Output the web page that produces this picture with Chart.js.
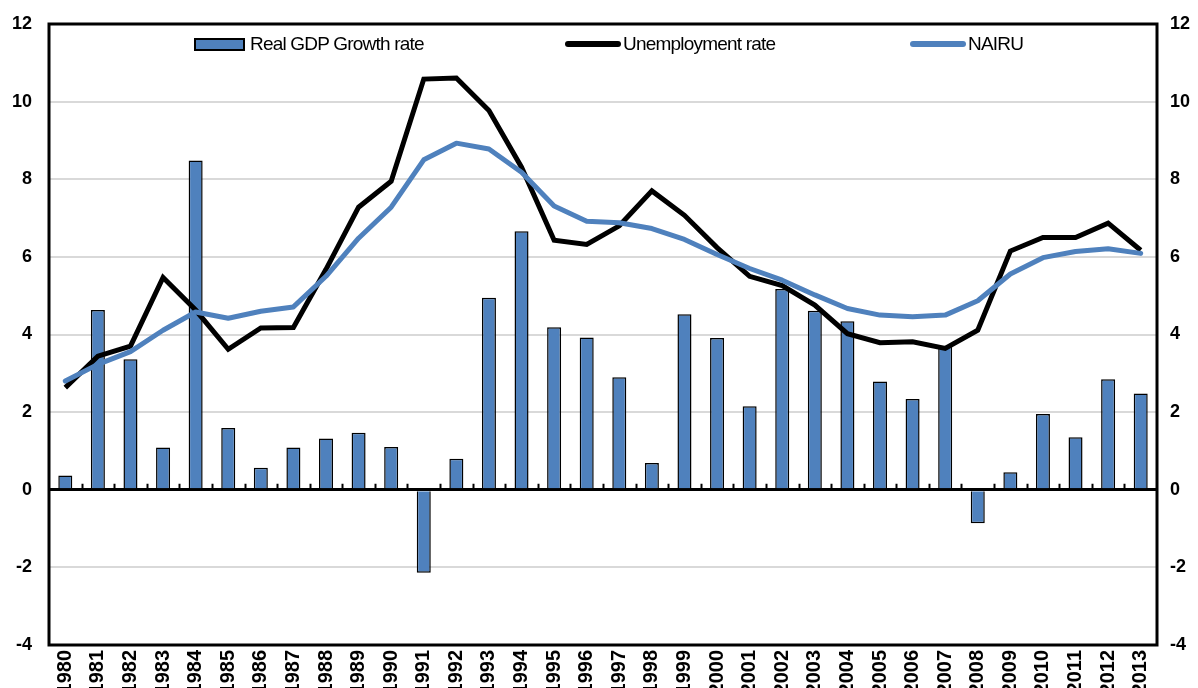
<!DOCTYPE html>
<html>
<head>
<meta charset="utf-8">
<script src="https://cdn.jsdelivr.net/npm/chart.js@4.4.0/dist/chart.umd.min.js"></script>
<style>
  html, body { margin: 0; padding: 0; background: #fff; }
  #wrap { position: relative; width: 1198px; height: 688px; overflow: hidden; }
  canvas { position: absolute; left: 0; top: 0; }
  .lg-text { position: absolute; top: 34px; font-family: "Liberation Sans", Arial, sans-serif; font-size: 19px; line-height: 20px; letter-spacing: -0.8px; color: #000; white-space: nowrap; }
  .lg-box { position: absolute; left: 194px; top: 38px; width: 51px; height: 13px; background: #4F81BD; border: 2px solid #000; box-sizing: border-box; }
  .lg-line { position: absolute; top: 41px; height: 6px; border-radius: 3px; }
</style>
</head>
<body>
<div id="wrap">
  <canvas id="c" width="1198" height="688"></canvas>
  <div class="lg-box"></div>
  <div class="lg-text" style="left:250px">Real GDP Growth rate</div>
  <div class="lg-line" style="left:565px;width:56px;background:#000"></div>
  <div class="lg-text" style="left:623px">Unemployment rate</div>
  <div class="lg-line" style="left:910px;width:56px;background:#4F81BD"></div>
  <div class="lg-text" style="left:968px">NAIRU</div>
</div>
<script>
const years = ["1980","1981","1982","1983","1984","1985","1986","1987","1988","1989",
  "1990","1991","1992","1993","1994","1995","1996","1997","1998","1999",
  "2000","2001","2002","2003","2004","2005","2006","2007","2008","2009",
  "2010","2011","2012","2013"];

const gdpGrowth = [0.37, 4.63, 3.36, 1.09, 8.48, 1.59, 0.57, 1.09, 1.32, 1.47,
  1.10, -2.14, 0.80, 4.95, 6.66, 4.19, 3.92, 2.90, 0.69, 4.52,
  3.91, 2.15, 5.17, 4.61, 4.34, 2.79, 2.34, 3.70, -0.86, 0.45,
  1.95, 1.35, 2.85, 2.48];

const unemployment = [2.63, 3.44, 3.70, 5.47, 4.63, 3.62, 4.17, 4.18, 5.68, 7.28,
  7.95, 10.58, 10.61, 9.77, 8.31, 6.43, 6.32, 6.80, 7.70, 7.07,
  6.24, 5.50, 5.26, 4.76, 4.02, 3.79, 3.81, 3.64, 4.11, 6.15,
  6.50, 6.50, 6.87, 6.17];

const nairu = [2.80, 3.23, 3.56, 4.11, 4.58, 4.42, 4.60, 4.71, 5.50, 6.48,
  7.28, 8.50, 8.93, 8.78, 8.18, 7.31, 6.92, 6.88, 6.73, 6.45,
  6.06, 5.70, 5.40, 5.02, 4.67, 4.50, 4.46, 4.50, 4.87, 5.56,
  5.98, 6.14, 6.21, 6.09];

const yMin = -4, yMax = 12, yStep = 2;

const BLUE = '#4F81BD';
const FONT = '"Liberation Sans", Arial, sans-serif';
const NARROW = '"Liberation Sans Narrow", "Arial Narrow", "Liberation Sans", Arial, sans-serif';

function zeroPad(s) { s.paddingTop = 0; s.paddingBottom = 0; s.paddingLeft = 0; s.paddingRight = 0; }

const framePlugin = {
  id: 'frame',
  afterDraw(chart) {
    const { ctx, chartArea: a, scales } = chart;
    const x = scales.x, y = scales.y;
    const y0 = y.getPixelForValue(0);
    ctx.save();
    ctx.strokeStyle = '#000';
    ctx.lineWidth = 2;
    for (let i = 1; i < years.length; i++) {
      const px = Math.round((x.getPixelForTick(i - 1) + x.getPixelForTick(i)) / 2) + 0.5;
      ctx.beginPath();
      ctx.moveTo(px, y0);
      ctx.lineTo(px, y0 - 6);
      ctx.stroke();
    }
    ctx.lineWidth = 3;
    ctx.strokeRect(a.left, a.top, a.right - a.left, a.bottom - a.top);
    ctx.restore();
  }
};

new Chart(document.getElementById('c'), {
  data: {
    labels: years,
    datasets: [
      {
        type: 'line', label: 'NAIRU', data: nairu,
        borderColor: BLUE, borderWidth: 5, pointRadius: 0, tension: 0,
        yAxisID: 'y', order: 1, borderJoinStyle: 'round', borderCapStyle: 'round'
      },
      {
        type: 'line', label: 'Unemployment rate', data: unemployment,
        borderColor: '#000', borderWidth: 5, pointRadius: 0, tension: 0,
        yAxisID: 'y', order: 2, borderJoinStyle: 'miter', borderCapStyle: 'butt'
      },
      {
        type: 'bar', label: 'Real GDP Growth rate', data: gdpGrowth,
        backgroundColor: BLUE, borderColor: '#000', borderWidth: 1.5,
        categoryPercentage: 1.0, barPercentage: 0.43,
        yAxisID: 'y', order: 3
      }
    ]
  },
  options: {
    responsive: false,
    animation: false,
    devicePixelRatio: 1,
    layout: { padding: { top: 24, left: 0, right: 0, bottom: 0 } },
    plugins: { legend: { display: false }, tooltip: { enabled: false } },
    scales: {
      x: {
        type: 'category',
        offset: true,
        grid: { display: false, drawTicks: false },
        border: { display: false },
        ticks: {
          autoSkip: false, maxRotation: 90, minRotation: 90, padding: 5,
          color: '#000', font: { family: NARROW, size: 20, weight: 'bold' }
        },
        afterFit(s) { s.height = 43; zeroPad(s); }
      },
      y: {
        position: 'left', min: yMin, max: yMax,
        grid: {
          drawTicks: false,
          color: c => c.tick && c.tick.value === 0 ? '#000' : '#D9D9D9',
          lineWidth: c => c.tick && c.tick.value === 0 ? 3 : 2
        },
        border: { display: false },
        ticks: {
          stepSize: yStep, padding: 17, color: '#000',
          font: { family: FONT, size: 18, weight: 'bold' }
        },
        afterFit(s) { s.width = 49; zeroPad(s); }
      },
      y2: {
        position: 'right', min: yMin, max: yMax,
        grid: { display: false, drawTicks: false },
        border: { display: false },
        ticks: {
          stepSize: yStep, padding: 13, color: '#000',
          font: { family: FONT, size: 18, weight: 'bold' }
        },
        afterFit(s) { s.width = 41; zeroPad(s); }
      }
    }
  },
  plugins: [framePlugin]
});
</script>
</body>
</html>
